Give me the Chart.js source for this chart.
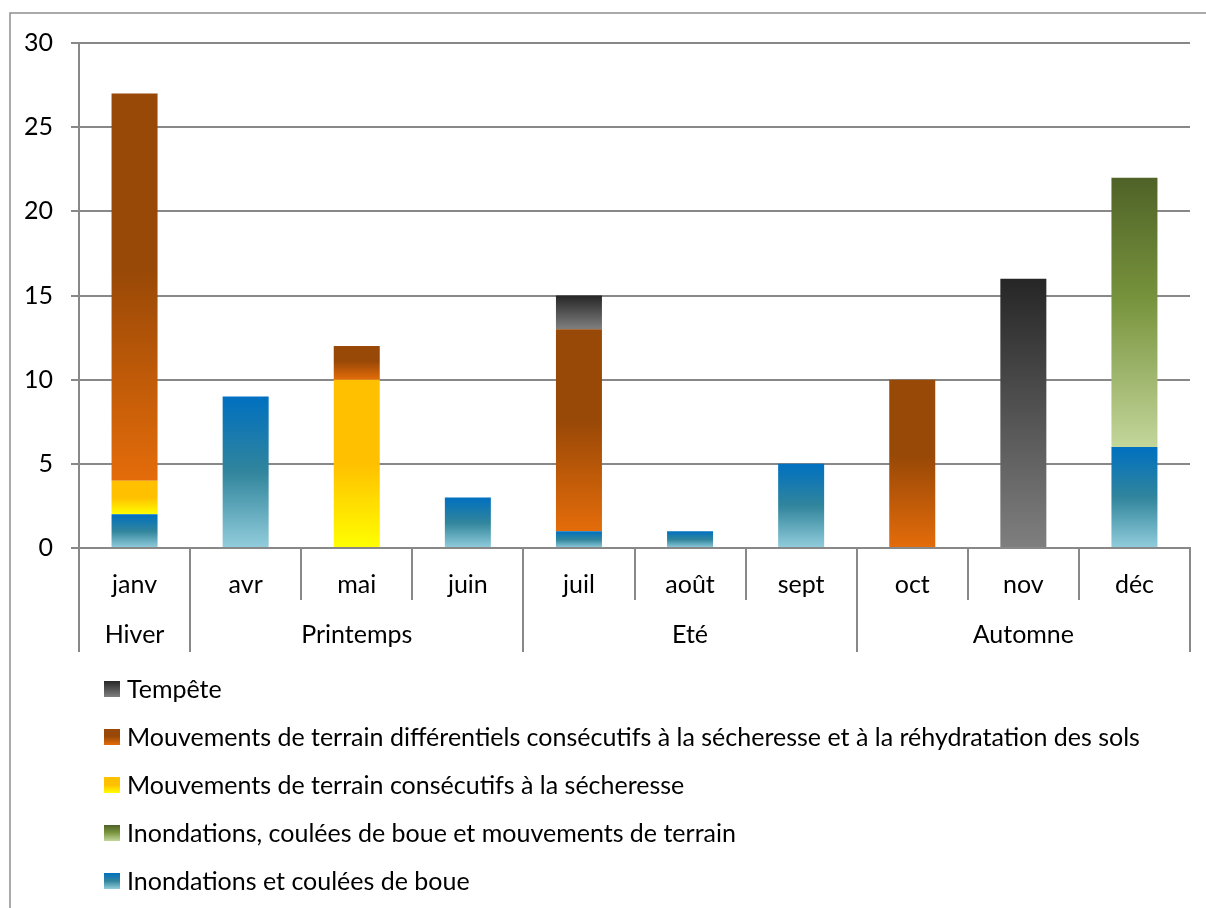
<!DOCTYPE html>
<html>
<head>
<meta charset="utf-8">
<script src="https://cdn.jsdelivr.net/npm/chart.js@4.4.1/dist/chart.umd.min.js"></script>
<style>
  html, body { margin: 0; padding: 0; background: #ffffff; }
  #wrap { width: 1206px; height: 908px; }
</style>
</head>
<body>
<div id="wrap"><canvas id="chart" width="1206" height="908"></canvas></div>
<script>
// Months with at least one recognised event, grouped by season
const months = ['janv', 'avr', 'mai', 'juin', 'juil', 'août', 'sept', 'oct', 'nov', 'déc'];
const seasonNames = ['Hiver', 'Printemps', 'Eté', 'Automne'];
const seasonSizes = [1, 3, 3, 3];

// Number of events per month and type (stacked bottom to top)
const inondations     = [2, 9, 0, 3, 1, 1, 5, 0, 0, 6];
const inondationsMvt  = [0, 0, 0, 0, 0, 0, 0, 0, 0, 16];
const secheresse      = [2, 0, 10, 0, 0, 0, 0, 0, 0, 0];
const differentiels   = [23, 0, 2, 0, 12, 0, 0, 10, 0, 0];
const tempete         = [0, 0, 0, 0, 2, 0, 0, 0, 16, 0];

const yTicks = [0, 5, 10, 15, 20, 25, 30];

const FONT = 'Lato, "Open Sans", sans-serif';
const FONT_SIZE = 25;
const LINE = '#888888';

// Vertical gradient stops (top -> bottom) for each series
const palettes = {
  blue:   [[0, '#0070C0'], [0.5, '#31859C'], [1, '#92CDDC']],
  green:  [[0, '#4F6228'], [0.45, '#77933C'], [1, '#C3D69B']],
  yellow: [[0, '#FFC000'], [0.5, '#FFC000'], [1, '#FFFF00']],
  brown:  [[0, '#984807'], [0.45, '#984807'], [1, '#E46C0A']],
  gray:   [[0, '#262626'], [1, '#7F7F7F']]
};

function makeGradient(c, top, bottom, stops) {
  const g = c.createLinearGradient(0, top, 0, bottom);
  stops.forEach(s => g.addColorStop(s[0], s[1]));
  return g;
}

// Each stacked segment gets its own gradient spanning its height
function segmentFill(stops) {
  return function (ctx) {
    const chart = ctx.chart;
    if (!chart.chartArea || ctx.type !== 'data') return stops[0][1];
    const y = chart.scales.y;
    let base = 0;
    for (let d = 0; d < ctx.datasetIndex; d++) {
      base += chart.data.datasets[d].data[ctx.dataIndex];
    }
    const top = y.getPixelForValue(base + ctx.raw);
    const bottom = y.getPixelForValue(base);
    if (bottom - top < 1) return stops[0][1];
    return makeGradient(chart.ctx, top, bottom, stops);
  };
}

function series(label, data, stops) {
  return {
    label: label,
    data: data,
    stops: stops,
    backgroundColor: segmentFill(stops),
    borderWidth: 0,
    categoryPercentage: 1,
    barPercentage: 0.414
  };
}

// Category separators, season row and vertical legend
const decorations = {
  id: 'decorations',
  afterDraw(chart) {
    const c = chart.ctx;
    const x = chart.scales.x;
    const area = chart.chartArea;
    const half = (x.getPixelForValue(1) - x.getPixelForValue(0)) / 2;
    const edge = i => (i < months.length ? x.getPixelForValue(i) - half : x.getPixelForValue(months.length - 1) + half);

    const seasonEdges = [0];
    seasonSizes.forEach(n => seasonEdges.push(seasonEdges[seasonEdges.length - 1] + n));

    c.save();
    c.strokeStyle = LINE;
    c.lineWidth = 2;
    for (let i = 0; i <= months.length; i++) {
      const px = Math.round(edge(i));
      const long = seasonEdges.includes(i);
      c.beginPath();
      c.moveTo(px, area.bottom);
      c.lineTo(px, long ? 652 : 600);
      c.stroke();
    }

    c.fillStyle = '#000000';
    c.font = FONT_SIZE + 'px ' + FONT;
    c.textAlign = 'center';
    c.textBaseline = 'middle';
    seasonNames.forEach((name, k) => {
      const cx = (edge(seasonEdges[k]) + edge(seasonEdges[k + 1])) / 2;
      c.fillText(name, cx, 635);
    });

    // legend, last series first
    const ds = chart.data.datasets;
    c.textAlign = 'left';
    for (let k = 0; k < ds.length; k++) {
      const d = ds[ds.length - 1 - k];
      const cy = 689 + k * 48;
      c.fillStyle = makeGradient(c, cy - 8, cy + 8, d.stops);
      c.fillRect(104, cy - 8, 16, 16);
      c.fillStyle = '#000000';
      c.fillText(d.label, 127, cy + 1);
    }

    // outer frame
    c.strokeStyle = '#8e8e8e';
    c.lineWidth = 1.5;
    c.strokeRect(10, 13, 1400, 1100);
    c.restore();
  }
};

new Chart(document.getElementById('chart'), {
  type: 'bar',
  data: {
    labels: months,
    datasets: [
      series('Inondations et coulées de boue', inondations, palettes.blue),
      series('Inondations, coulées de boue et mouvements de terrain', inondationsMvt, palettes.green),
      series('Mouvements de terrain consécutifs à la sécheresse', secheresse, palettes.yellow),
      series('Mouvements de terrain différentiels consécutifs à la sécheresse et à la réhydratation des sols', differentiels, palettes.brown),
      series('Tempête', tempete, palettes.gray)
    ]
  },
  options: {
    responsive: false,
    animation: false,
    devicePixelRatio: 1,
    layout: { padding: { top: 43, right: 16, left: 0, bottom: 0 } },
    plugins: {
      legend: { display: false },
      tooltip: { enabled: false }
    },
    scales: {
      x: {
        stacked: true,
        grid: { display: false },
        border: { display: true, color: LINE, width: 2 },
        ticks: { color: '#000000', font: { family: FONT, size: FONT_SIZE }, padding: 14, maxRotation: 0 },
        afterFit(scale) { scale.height = 360; }
      },
      y: {
        stacked: true,
        min: 0,
        max: 30,
        afterBuildTicks(scale) { scale.ticks = yTicks.map(v => ({ value: v })); },
        grid: { color: LINE, lineWidth: 2, tickLength: 8, drawTicks: true },
        border: { display: true, color: LINE, width: 2 },
        ticks: { color: '#000000', font: { family: FONT, size: FONT_SIZE }, padding: 18 },
        afterFit(scale) { scale.width = 79; }
      }
    }
  },
  plugins: [decorations]
});
</script>
</body>
</html>
